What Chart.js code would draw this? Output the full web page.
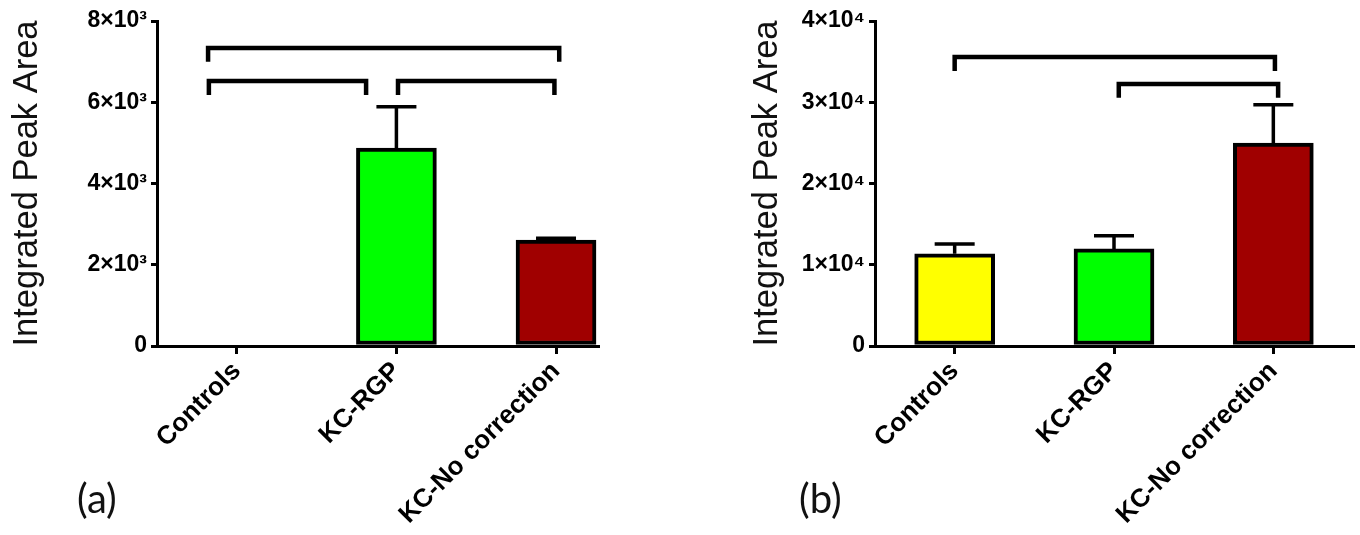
<!DOCTYPE html>
<html><head><meta charset="utf-8">
<script src="https://cdn.jsdelivr.net/npm/chart.js@4.4.0/dist/chart.umd.min.js"></script>
<style>
html,body{margin:0;padding:0;background:#fff;width:1360px;height:535px;overflow:hidden;position:relative}
.wrap{position:absolute;top:0;height:535px}
#wa{left:0;width:640px}
#wb{left:740px;width:620px}
.panel{position:absolute;font-family:Lato,'Open Sans',sans-serif;font-size:40px;color:#111;line-height:1}
</style></head><body>
<div class="wrap" id="wa"><canvas id="ca" width="640" height="535"></canvas></div>
<div class="wrap" id="wb"><canvas id="cb" width="620" height="535"></canvas></div>
<div class="panel" style="left:77px;top:478px">(a)</div>
<div class="panel" style="left:799px;top:478px">(b)</div>
<script>
// ---- data ----
const categories = ['Controls', 'KC-RGP', 'KC-No correction'];
const barColors = ['#FFFF00', '#00FF00', '#A00000'];

const meanA = [0, 4870, 2610];
const semA = [0, 1020, 40];
const yTicksA = [0, 2000, 4000, 6000, 8000];
const yTickLabelsA = ['0', '2×10³', '4×10³', '6×10³', '8×10³'];
const bracketFromA = [-0.18, -0.175, 1.01];
const bracketToA = [2.02, 0.81, 1.99];
const bracketYA = [7335, 6523, 6523];
const bracketLegA = [7000, 6178, 6178];

const meanB = [11350, 11950, 24980];
const semB = [1200, 1630, 4720];
const yTicksB = [0, 10000, 20000, 30000, 40000];
const yTickLabelsB = ['0', '1×10⁴', '2×10⁴', '3×10⁴', '4×10⁴'];
const bracketFromB = [0, 1.03];
const bracketToB = [2.01, 2.03];
const bracketYB = [35570, 32250];
const bracketLegB = [33850, 30560];

// ---- plugin: error bars + significance brackets ----
const annot = {
  id: 'annot',
  afterDatasetsDraw(chart, args, o) {
    const {ctx, scales: {x, y}} = chart;
    ctx.save();
    ctx.strokeStyle = '#000';
    ctx.lineCap = 'butt';
    ctx.lineWidth = 3.5;
    o.means.forEach((m, i) => {
      const s = o.sems[i];
      if (!s) return;
      const px = x.getPixelForValue(i);
      const y0 = y.getPixelForValue(m), y1 = y.getPixelForValue(m + s);
      ctx.beginPath();
      ctx.moveTo(px, y0); ctx.lineTo(px, y1);
      ctx.moveTo(px - 20, y1); ctx.lineTo(px + 20, y1);
      ctx.stroke();
    });
    ctx.lineWidth = 4.5;
    ctx.lineJoin = 'miter';
    o.from.forEach((f, i) => {
      const xa = x.getPixelForValue(f), xb = x.getPixelForValue(o.to[i]);
      const yb = y.getPixelForValue(o.y[i]), yl = y.getPixelForValue(o.leg[i]);
      ctx.beginPath();
      ctx.moveTo(xa, yl); ctx.lineTo(xa, yb); ctx.lineTo(xb, yb); ctx.lineTo(xb, yl);
      ctx.stroke();
    });
    ctx.restore();
  }
};

function makeChart(id, means, sems, yTicks, yLabels, bf, bt, by, bl, xMax, yW, padR) {
  const step = yTicks[1] - yTicks[0];
  return new Chart(document.getElementById(id), {
    type: 'bar',
    data: {
      datasets: [{
        data: means.map((v, i) => ({x: i, y: v})),
        backgroundColor: barColors,
        borderColor: '#000',
        borderWidth: 4,
        borderSkipped: false,
        barThickness: 80
      }]
    },
    plugins: [annot],
    options: {
      responsive: false,
      animation: false,
      devicePixelRatio: 1,
      layout: {padding: {left: 0, right: padR, top: 21, bottom: 0}},
      plugins: {
        legend: {display: false},
        tooltip: {enabled: false},
        annot: {means: means, sems: sems, from: bf, to: bt, y: by, leg: bl}
      },
      scales: {
        x: {
          type: 'linear',
          offset: false,
          min: -0.5,
          max: xMax,
          afterBuildTicks: s => { s.ticks = categories.map((c, i) => ({value: i})); },
          afterFit: s => { s.height = 189; },
          ticks: {
            callback: v => categories[v],
            autoSkip: false,
            maxRotation: 45, minRotation: 45,
            color: '#000',
            padding: 2,
            font: {family: "'Liberation Sans', Arial, sans-serif", weight: 'bold', size: 26}
          },
          grid: {offset: false, drawOnChartArea: false, drawTicks: true, tickLength: 8, color: '#000', lineWidth: 3},
          border: {display: true, color: '#000', width: 3}
        },
        y: {
          min: 0,
          max: yTicks[yTicks.length - 1],
          afterBuildTicks: s => { s.ticks = yTicks.map(v => ({value: v})); },
          afterFit: s => { s.width = yW; },
          ticks: {
            callback: v => yLabels[Math.round(v / step)],
            color: '#000',
            padding: 4,
            font: {family: "'Liberation Sans', Arial, sans-serif", weight: 'bold', size: 23}
          },
          grid: {drawOnChartArea: false, drawTicks: true, tickLength: 6, color: '#000', lineWidth: 3},
          border: {display: true, color: '#000', width: 3},
          title: {
            display: true,
            text: 'Integrated Peak Area',
            color: '#111',
            padding: {top: 7, bottom: 0},
            font: {family: "'Liberation Sans', Arial, sans-serif", weight: 'normal', size: 34.5}
          }
        }
      }
    }
  });
}

makeChart('ca', meanA, semA, yTicksA, yTickLabelsA, bracketFromA, bracketToA, bracketYA, bracketLegA, 2.263, 157, 42);
makeChart('cb', meanB, semB, yTicksB, yTickLabelsB, bracketFromB, bracketToB, bracketYB, bracketLegB, 2.5, 135, 7);
</script>
</body></html>
